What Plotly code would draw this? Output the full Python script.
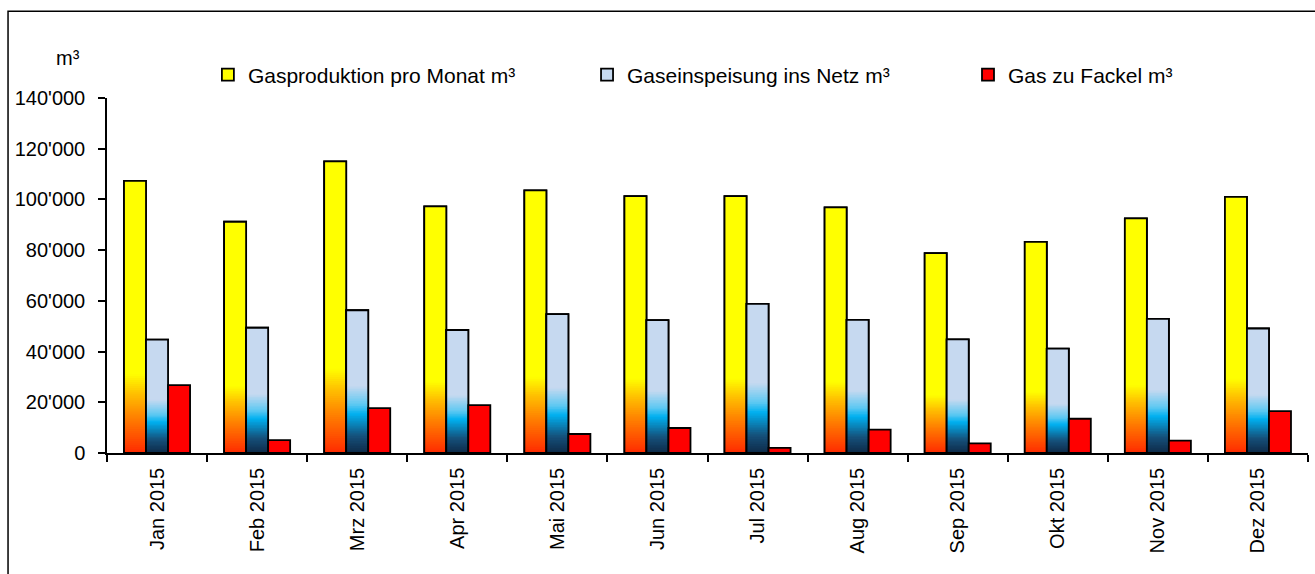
import plotly.graph_objects as go
from plotly.colors import sample_colorscale

# ---------------- data ----------------
months = ["Jan 2015", "Feb 2015", "Mrz 2015", "Apr 2015", "Mai 2015", "Jun 2015",
          "Jul 2015", "Aug 2015", "Sep 2015", "Okt 2015", "Nov 2015", "Dez 2015"]
gasproduktion = [107300, 91200, 115000, 97300, 103600, 101300,
                 101300, 96900, 78800, 83250, 92500, 101000]
einspeisung = [44700, 49400, 56300, 48500, 54800, 52400,
               58800, 52500, 44800, 41200, 52900, 49100]
fackel = [26800, 5100, 17700, 18900, 7500, 9850,
          2000, 9200, 3800, 13500, 4850, 16550]

series_names = ["Gasproduktion pro Monat m³", "Gaseinspeisung ins Netz m³", "Gas zu Fackel m³"]
y_tickvals = [0, 20000, 40000, 60000, 80000, 100000, 120000, 140000]
y_ticktext = ["0", "20'000", "40'000", "60'000", "80'000", "100'000", "120'000", "140'000"]

# ---------------- styling ----------------
FONT = "Liberation Sans, Arial, sans-serif"
LINE = 1.8
yellow_scale = [[0.0, "#ff2a00"], [0.45, "#ff8000"], [0.75, "#ffc000"], [1.0, "#ffff00"]]
blue_scale = [[0.0, "#0e2a48"], [0.25, "#15507a"], [0.58, "#00b0f0"], [0.72, "#5cc8f2"], [1.0, "#c6d9f0"]]
N_SEG = 40

fig = go.Figure()


def add_gradient_series(name, values, top_color, scale, frac, group, legend_id):
    # base bar (legend entry)
    fig.add_trace(go.Bar(x=months, y=values, name=name, offsetgroup=group, legend=legend_id,
                         marker=dict(color=top_color, line=dict(color="black", width=LINE)),
                         hoverinfo="x+y"))
    cols = sample_colorscale(scale, [(k + 0.5) / N_SEG for k in range(N_SEG)])
    for k in range(N_SEG):
        bases = [v * frac * k / N_SEG for v in values]
        heights = [v - b for v, b in zip(values, bases)]
        seg_cols = cols[k]
        fig.add_trace(go.Bar(x=months, y=heights, base=bases, offsetgroup=group,
                             marker=dict(color=seg_cols, line=dict(width=0)),
                             showlegend=False, hoverinfo="skip"))
    # solid top part above the gradient
    tops = [v * frac for v in values]
    fig.add_trace(go.Bar(x=months, y=[v - t for v, t in zip(values, tops)], base=tops,
                         offsetgroup=group, marker=dict(color=top_color, line=dict(width=0)),
                         showlegend=False, hoverinfo="skip"))
    # outline on top
    fig.add_trace(go.Bar(x=months, y=values, offsetgroup=group,
                         marker=dict(color="rgba(0,0,0,0)", line=dict(color="black", width=LINE)),
                         showlegend=False, hoverinfo="skip"))


add_gradient_series(series_names[0], gasproduktion, "#ffff00", yellow_scale, 0.29, "a", "legend")
add_gradient_series(series_names[1], einspeisung, "#c6d9f0", blue_scale, 0.47, "b", "legend2")
fig.add_trace(go.Bar(x=months, y=fackel, name=series_names[2], offsetgroup="c", legend="legend3",
                     marker=dict(color="#ff0000", line=dict(color="black", width=LINE))))

leg_common = dict(orientation="h", xanchor="left", y=1.065, yanchor="middle",
                  bgcolor="rgba(0,0,0,0)", font=dict(family=FONT, size=21, color="black"))

fig.update_layout(
    width=1315, height=574,
    margin=dict(l=107, r=7, t=98, b=121),
    paper_bgcolor="white", plot_bgcolor="white",
    barmode="group", bargap=0.34, bargroupgap=0,
    font=dict(family=FONT, size=20, color="black"),
    showlegend=True,
    legend=dict(x=0.084, **leg_common),
    legend2=dict(x=0.3997, **leg_common),
    legend3=dict(x=0.7169, **leg_common),
    xaxis=dict(showline=True, linecolor="black", linewidth=1.5, ticks="outside",
               tickson="boundaries", ticklen=7, tickwidth=1.5, tickcolor="black",
               tickangle=-90, showgrid=False, ticklabelstandoff=5,
               tickfont=dict(family=FONT, size=20, color="black")),
    yaxis=dict(range=[0, 140000], showline=True, linecolor="black", linewidth=1.5,
               ticks="outside", ticklen=7, tickwidth=1.5, tickcolor="black",
               tickvals=y_tickvals, ticktext=y_ticktext, showgrid=False, zeroline=False,
               ticklabelstandoff=9, tickfont=dict(family=FONT, size=20, color="black")),
    annotations=[dict(text="m³", xref="paper", yref="paper", x=-0.0325, y=1.113,
                      xanchor="center", yanchor="middle", showarrow=False,
                      font=dict(family=FONT, size=20, color="black"))],
    shapes=[dict(type="rect", xref="paper", yref="paper", x0=-0.0824, x1=1.02,
                 y0=-0.5, y1=1.2445, line=dict(color="black", width=1.5),
                 fillcolor="rgba(0,0,0,0)", layer="below")],
)

fig.write_html("out.html")
